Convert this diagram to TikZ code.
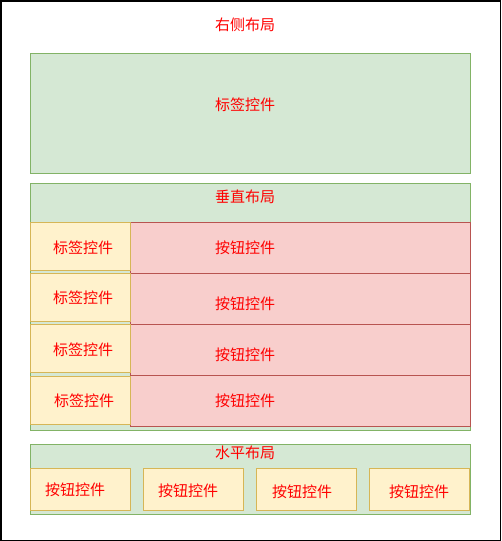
\documentclass[tikz,border=0pt]{standalone}
\usepackage{fontspec}
\newfontfamily\cjk{Noto Sans CJK SC}
\usetikzlibrary{positioning}

\definecolor{greenfill}{HTML}{D5E8D4}
\definecolor{greenline}{HTML}{82B366}
\definecolor{redfill}{HTML}{F8CECC}
\definecolor{redline}{HTML}{B85450}
\definecolor{yellowfill}{HTML}{FFF2CC}
\definecolor{yellowline}{HTML}{D6B656}

\tikzset{
  box/.style={anchor=north west, inner sep=0pt, line width=1pt},
  greenbox/.style={box, draw=greenline, fill=greenfill},
  redbox/.style={box, draw=redline, fill=redfill, minimum width=340pt, minimum height=51pt},
  labelbox/.style={box, draw=yellowline, fill=yellowfill, minimum width=100pt, minimum height=48pt},
  btnbox/.style={box, draw=yellowline, fill=yellowfill, minimum width=100pt, minimum height=42pt},
  txt/.style={text=red, inner sep=0pt, font=\cjk\fontsize{15}{17}\selectfont}
}

\begin{document}
\begin{tikzpicture}[x=1pt,y=-1pt]
  \useasboundingbox (0,0) rectangle (501,541);
  \draw[line width=1.5pt] (0.75,0.75) rectangle (500.25,540.25); % outer frame

  \node[txt] (right) at (245,25) {右侧布局};

  % top label
  \node[greenbox, minimum width=440pt, minimum height=120pt] (top) at (30,53) {};
  \node[txt] (toptxt) at (245,105) {标签控件};

  % vertical layout
  \node[greenbox, minimum width=440pt, minimum height=247pt] (vert) at (30,183) {};
  \node[txt] (verttxt) at (245,197) {垂直布局};

  \node[redbox] (b1) at (130,222) {};
  \node[redbox] (b2) at (130,273) {};
  \node[redbox] (b3) at (130,324) {};
  \node[redbox] (b4) at (130,375) {};
  \node[labelbox] (l1) at (30,222) {};
  \node[labelbox] (l2) at (30,273) {};
  \node[labelbox] (l3) at (30,324) {};
  \node[labelbox] (l4) at (30,376) {};

  \node[txt] (l1txt) at (83,248) {标签控件};
  \node[txt] (l2txt) at (83,298) {标签控件};
  \node[txt] (l3txt) at (83,350) {标签控件};
  \node[txt] (l4txt) at (84,401) {标签控件};
  \node[txt] (b1txt) at (245,248) {按钮控件};
  \node[txt] (b2txt) at (245,304) {按钮控件};
  \node[txt] (b3txt) at (245,355) {按钮控件};
  \node[txt] (b4txt) at (245,401) {按钮控件};

  % horizontal layout
  \node[greenbox, minimum width=440pt, minimum height=70pt] (horiz) at (30,444) {};
  \node[txt] (horiztxt) at (245,453) {水平布局};

  \node[btnbox] (h1) at (30,468) {};
  \node[btnbox] (h2) at (143,468) {};
  \node[btnbox] (h3) at (256,468) {};
  \node[btnbox] (h4) at (369,468) {};
  \node[txt] (h1txt) at (75,490) {按钮控件};
  \node[txt] (h2txt) at (188,491) {按钮控件};
  \node[txt] (h3txt) at (302,492) {按钮控件};
  \node[txt] (h4txt) at (419,492) {按钮控件};
\end{tikzpicture}
\end{document}
